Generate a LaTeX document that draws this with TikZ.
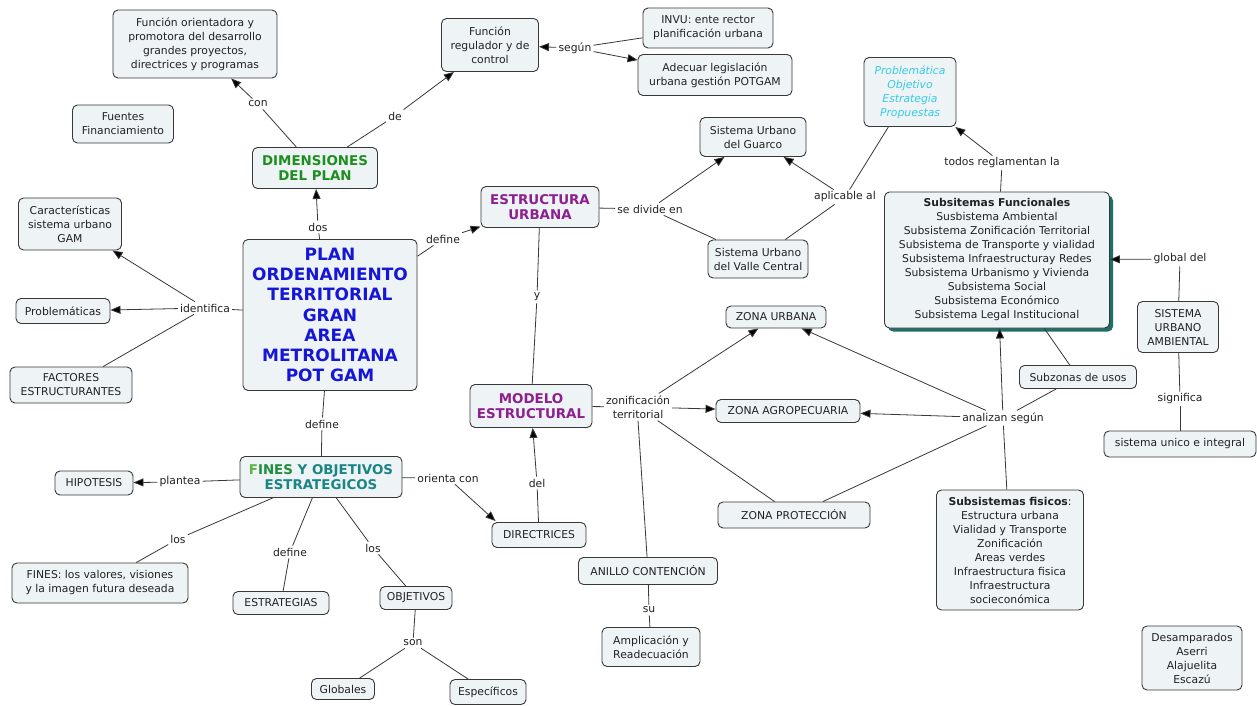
\documentclass[tikz,border=0pt]{standalone}
\usepackage{fontspec}
\setmainfont{DejaVu Sans}
\usetikzlibrary{arrows.meta,shadows}
\definecolor{boxfill}{HTML}{EEF3F6}
\definecolor{linec}{HTML}{383838}
\definecolor{txtc}{HTML}{222222}
\definecolor{dimgreen}{HTML}{1E8F1E}
\definecolor{purp}{HTML}{8E1F8E}
\definecolor{planblue}{HTML}{1616D6}
\definecolor{fgreen}{HTML}{62B048}
\definecolor{igreen}{HTML}{1E8F3C}
\definecolor{fteal}{HTML}{1A8585}
\definecolor{pcyan}{HTML}{35CCE0}
\definecolor{shteal}{HTML}{1F6F68}
\newcommand{\normf}{\fontsize{10.8}{14}\selectfont}
\newcommand{\titf}{\fontsize{13.4}{15.5}\selectfont\bfseries}
\newcommand{\planf}{\fontsize{17}{20.3}\selectfont\bfseries}
\begin{document}
\begin{tikzpicture}[x=1pt,y=-1pt,
  box/.style={draw=linec, line width=0.9pt, rounded corners=5pt, fill=boxfill, align=center, font=\normf, text=txtc, inner sep=2pt},
  lab/.style={font=\normf, text=txtc, inner sep=2pt, align=center},
  ln/.style={draw=linec, line width=0.8pt},
  ar/.style={ln, -{Triangle[length=10pt,width=8pt,fill=black]}}]
\path[use as bounding box, fill=white] (0,0) rectangle (1257,706);

% ---------- concept boxes ----------
\node[box, minimum width=164pt, minimum height=68pt] (fo) at (195,44) {Función orientadora y\\promotora del desarrollo\\grandes proyectos,\\directrices y programas};
\node[box, minimum width=101pt, minimum height=38pt] (ff) at (123,124) {Fuentes\\Financiamiento};
\node[box, minimum width=125pt, minimum height=41pt, font=\titf, text=dimgreen] (dim) at (315,168) {DIMENSIONES\\DEL PLAN};
\node[box, minimum width=97pt, minimum height=53pt] (fr) at (490,45) {Función\\regulador y de\\control};
\node[box, minimum width=130pt, minimum height=40pt] (invu) at (708,28) {INVU: ente rector\\planificación urbana};
\node[box, minimum width=154pt, minimum height=41pt] (adec) at (715,75) {Adecuar legislación\\urbana gestión POTGAM};
\node[box, minimum width=106pt, minimum height=39pt] (guarco) at (753,137) {Sistema Urbano\\del Guarco};
\node[box, minimum width=118pt, minimum height=41pt, font=\titf, text=purp] (est) at (540,207) {ESTRUCTURA\\URBANA};
\node[box, minimum width=100pt, minimum height=38pt] (valle) at (758,259) {Sistema Urbano\\del Valle Central};
\node[box, minimum width=92pt, minimum height=69pt, text=pcyan, font=\normf\itshape] (prob) at (910,92) {Problemática\\Objetivo\\Estrategia\\Propuestas};
\node[box, minimum width=225pt, minimum height=136pt,
      drop shadow={shadow xshift=3.5pt, shadow yshift=-3.5pt, fill=shteal, opacity=1}] (func) at (997,260)
  {\textbf{Subsitemas Funcionales}\\Susbistema Ambiental\\Subsistema Zonificación Territorial\\Subsistema de Transporte y vialidad\\Subsistema Infraestructuray Redes\\Subsistema Urbanismo y Vivienda\\Subsistema Social\\Subsistema Económico\\Subsistema Legal Institucional};
\node[box, minimum width=81pt, minimum height=51pt] (sua) at (1178,327) {SISTEMA\\URBANO\\AMBIENTAL};
\node[box, minimum width=152pt, minimum height=26pt] (unico) at (1180,444) {sistema unico e integral};
\node[box, minimum width=117pt, minimum height=23pt] (subz) at (1078,377) {Subzonas de usos};
\node[box, minimum width=100pt, minimum height=22pt] (zu) at (776,317) {ZONA URBANA};
\node[box, minimum width=144pt, minimum height=23pt] (za) at (788,411) {ZONA AGROPECUARIA};
\node[box, minimum width=122pt, minimum height=43pt, font=\titf, text=purp] (modelo) at (531,406) {MODELO\\ESTRUCTURAL};
\node[box, minimum width=152pt, minimum height=26pt] (zp) at (794,515) {ZONA PROTECCIÓN};
\node[box, minimum width=139pt, minimum height=27pt] (anillo) at (648,571) {ANILLO CONTENCIÓN};
\node[box, minimum width=98pt, minimum height=39pt] (ampl) at (651,647) {Amplicación y\\Readecuación};
\node[box, minimum width=94pt, minimum height=25pt] (dir) at (539,535) {DIRECTRICES};
\node[box, minimum width=162pt, minimum height=41pt, font=\titf, text=fteal] (fines) at (321,477)
  {\textcolor{fgreen}{F}\textcolor{igreen}{INES} Y OBJETIVOS\\ESTRATEGICOS};
\node[box, minimum width=78pt, minimum height=24pt] (hip) at (94,483) {HIPOTESIS};
\node[box, minimum width=176pt, minimum height=40pt] (finesv) at (100,583) {FINES: los valores, visiones\\y la imagen futura deseada};
\node[box, minimum width=96pt, minimum height=23pt] (estrat) at (281,603) {ESTRATEGIAS};
\node[box, minimum width=72pt, minimum height=23pt] (obj) at (416,598) {OBJETIVOS};
\node[box, minimum width=63pt, minimum height=21pt] (glob) at (343,689) {Globales};
\node[box, minimum width=76pt, minimum height=25pt] (espec) at (488,692) {Específicos};
\node[box, minimum width=174pt, minimum height=151pt, font=\planf, text=planblue] (plan) at (330,315)
  {PLAN\\ORDENAMIENTO\\TERRITORIAL\\GRAN\\AREA\\METROLITANA\\POT GAM};
\node[box, minimum width=103pt, minimum height=52pt] (carac) at (70,224) {Características\\sistema urbano\\GAM};
\node[box, minimum width=94pt, minimum height=25pt] (problem) at (63,311) {Problemáticas};
\node[box, minimum width=122pt, minimum height=36pt] (fact) at (71,385) {FACTORES\\ESTRUCTURANTES};
\node[box, minimum width=147pt, minimum height=120pt] (fis) at (1010,550)
  {\textbf{Subsistemas fisicos}:\\Estructura urbana\\Vialidad y Transporte\\Zonificación\\Areas verdes\\Infraestructura fisica\\Infraestructura\\socieconómica};
\node[box, minimum width=100pt, minimum height=64pt] (desamp) at (1192,658) {Desamparados\\Aserri\\Alajuelita\\Escazú};

% ---------- linking phrases ----------
\node[lab] (segun) at (575,48) {según};
\node[lab] (sediv) at (650,209) {se divide en};
\node[lab] (aplic) at (845,197) {aplicable al};
\node[lab] (todos) at (1002,163) {todos reglamentan la};
\node[lab] (global) at (1180,259) {global del};
\node[lab] (signif) at (1180,399) {significa};
\node[lab] (anal) at (1003,418) {analizan según};
\node[lab] (ylab) at (537,297) {y};
\node[lab] (zonif) at (638,407) {zonificación\\territorial};
\node[lab] (su) at (649,610) {su};
\node[lab] (del) at (537,483) {del};
\node[lab] (orienta) at (448,478) {orienta con};
\node[lab] (plantea) at (180,482) {plantea};
\node[lab] (losa) at (178,539) {los};
\node[lab] (defb) at (290,552) {define};
\node[lab] (losb) at (373,548) {los};
\node[lab] (son) at (413,643) {son};
\node[lab] (dos) at (318,227) {dos};
\node[lab] (conl) at (258,104) {con};
\node[lab] (de) at (395,116) {de};
\node[lab] (defa) at (443,239) {define};
\node[lab] (ident) at (205,308) {identifica};
\node[lab] (defc) at (322,424) {define};

% ---------- connectors ----------
\draw[ln] (plan) -- (dos);   \draw[ar] (dos) -- (dim);
\draw[ln] (dim) -- (conl);   \draw[ar] (conl) -- (fo);
\draw[ln] (dim) -- (de);     \draw[ar] (de) -- (fr);
\draw[ln] (invu) -- (segun); \draw[ar] (segun) -- (fr); \draw[ar] (segun) -- (adec);
\draw[ln] (plan) -- (defa);  \draw[ar] (defa) -- (est);
\draw[ln] (plan) -- (ident); \draw[ar] (ident) -- (carac); \draw[ar] (ident) -- (problem); \draw[ln] (ident) -- (fact);
\draw[ln] (plan) -- (defc);  \draw[ln] (defc) -- (fines);
\draw[ln] (est) -- (sediv);  \draw[ar] (sediv) -- (guarco); \draw[ln] (sediv) -- (valle);
\draw[ln] (valle) -- (aplic); \draw[ar] (aplic) -- (guarco); \draw[ln] (aplic) -- (prob);
\draw[ln] (func) -- (todos); \draw[ar] (todos) -- (prob);
\draw[ln] (sua) -- (global); \draw[ar] (global) -- (func);
\draw[ln] (sua) -- (signif); \draw[ln] (signif) -- (unico);
\draw[ln] (est) -- (ylab);   \draw[ln] (ylab) -- (modelo);
\draw[ln] (modelo) -- (zonif); \draw[ar] (zonif) -- (zu); \draw[ar] (zonif) -- (za); \draw[ln] (zonif) -- (zp); \draw[ln] (zonif.south) -- (anillo);
\draw[ln] (anillo) -- (su);  \draw[ln] (su) -- (ampl);
\draw[ln] (dir) -- (del);    \draw[ar] (del) -- (modelo);
\draw[ln] (fines) -- (orienta); \draw[ar] (orienta) -- ([xshift=4pt,yshift=1pt]dir.north west);
\draw[ln] (fines) -- (plantea); \draw[ar] (plantea) -- (hip);
\draw[ln] (fines) -- (losa); \draw[ln] (losa) -- (finesv);
\draw[ln] (fines) -- (defb); \draw[ln] (defb) -- (estrat);
\draw[ln] (fines) -- (losb); \draw[ln] (losb) -- (obj);
\draw[ln] (obj) -- (son);    \draw[ln] (son) -- (glob); \draw[ln] (son) -- (espec);
\draw[ln] (zp) -- (anal);    \draw[ln] (fis) -- (anal); \draw[ln] (subz) -- (anal);
\draw[ar] (anal) -- (zu);    \draw[ar] (anal) -- (za); \draw[ar] (anal) -- (func);
\draw[ln] (func) -- (subz);
\end{tikzpicture}
\end{document}
